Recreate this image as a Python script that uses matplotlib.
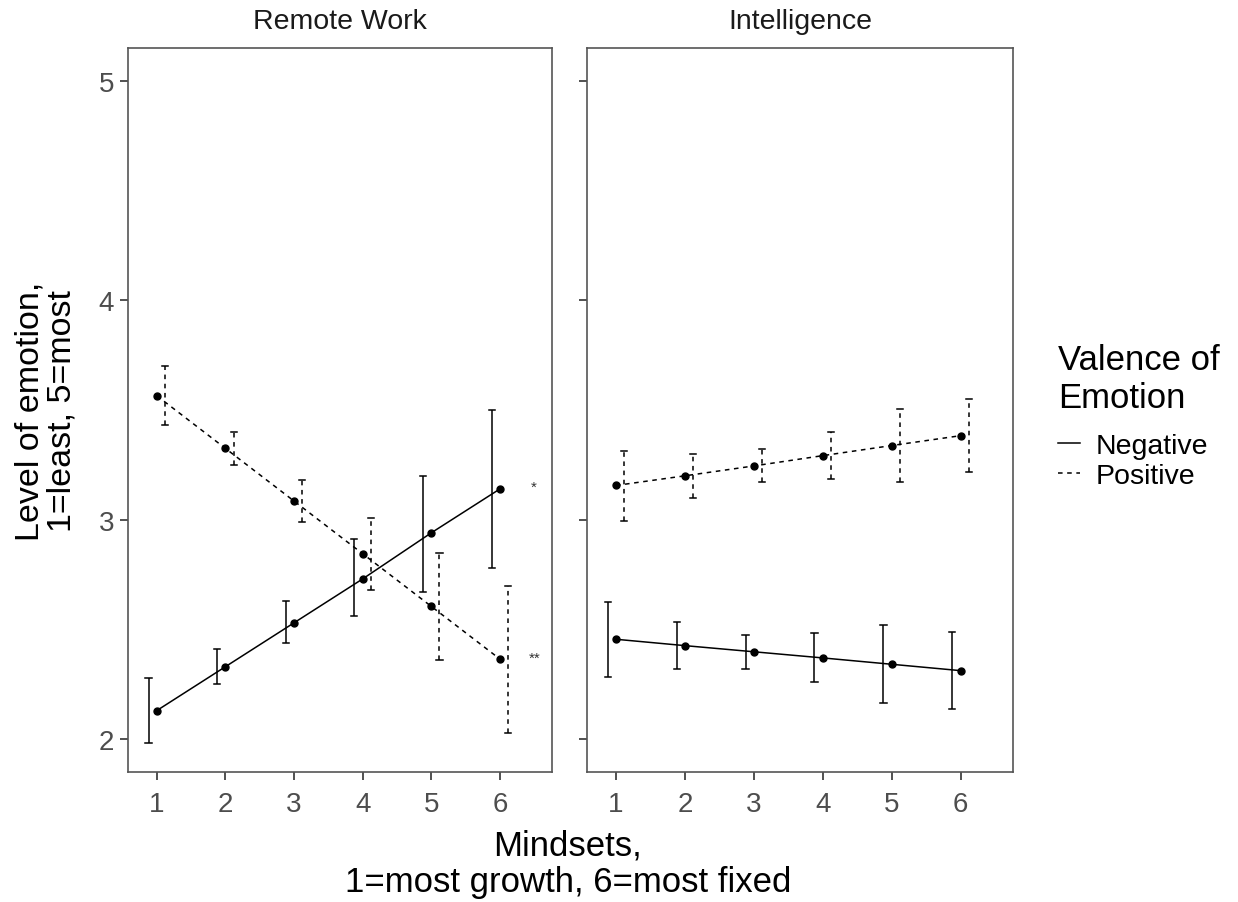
import matplotlib
matplotlib.use("Agg")
import matplotlib.pyplot as plt
from matplotlib.lines import Line2D

plt.rcParams['font.family'] = ['Liberation Sans', 'DejaVu Sans']

mindset = [1, 2, 3, 4, 5, 6]
panels = ["Remote Work", "Intelligence"]

# Remote Work
remote_neg = [2.13, 2.33, 2.53, 2.73, 2.94, 3.14]
remote_neg_lo = [1.98, 2.25, 2.44, 2.56, 2.67, 2.78]
remote_neg_hi = [2.28, 2.41, 2.63, 2.91, 3.20, 3.50]
remote_pos = [3.565, 3.325, 3.085, 2.845, 2.605, 2.365]
remote_pos_lo = [3.43, 3.25, 2.99, 2.68, 2.36, 2.03]
remote_pos_hi = [3.70, 3.40, 3.18, 3.01, 2.85, 2.70]

# Intelligence
intel_neg = [2.455, 2.426, 2.398, 2.370, 2.341, 2.312]
intel_neg_lo = [2.285, 2.318, 2.320, 2.259, 2.166, 2.136]
intel_neg_hi = [2.624, 2.533, 2.476, 2.482, 2.520, 2.489]
intel_pos = [3.156, 3.200, 3.245, 3.292, 3.338, 3.383]
intel_pos_lo = [2.994, 3.098, 3.171, 3.185, 3.171, 3.217]
intel_pos_hi = [3.315, 3.300, 3.320, 3.398, 3.505, 3.550]

# significance marks (Remote Work panel only)
sig_labels = ["*", "**"]
sig_y = [3.15, 2.37]
sig_x = 6.5

data = {
    "Remote Work": [(remote_neg, remote_neg_lo, remote_neg_hi),
                    (remote_pos, remote_pos_lo, remote_pos_hi)],
    "Intelligence": [(intel_neg, intel_neg_lo, intel_neg_hi),
                     (intel_pos, intel_pos_lo, intel_pos_hi)],
}

W, H = 1238, 903
fig = plt.figure(figsize=(W / 100, H / 100), dpi=100)

def box(x0, x1, y0, y1):
    return [x0 / W, 1 - y1 / H, (x1 - x0) / W, (y1 - y0) / H]

ax1 = fig.add_axes(box(128, 552, 49, 773))
ax2 = fig.add_axes(box(587, 1013, 49, 773))
axes = [ax1, ax2]

styles = ["-", (0, (3, 3))]
dodge = [-0.12, 0.12]

for ax, name in zip(axes, panels):
    for k, (y, lo, hi) in enumerate(data[name]):
        xs = [m + dodge[k] for m in mindset]
        for xe, l, h in zip(xs, lo, hi):
            ax.plot([xe, xe], [l, h], color="black", lw=1.1, ls=styles[k],
                    solid_capstyle="butt")
            ax.plot([xe - 0.045, xe + 0.045], [h, h], color="black", lw=1.1)
            ax.plot([xe - 0.045, xe + 0.045], [l, l], color="black", lw=1.1)
        ax.plot(mindset, y, color="black", lw=1.1, ls=styles[k])
        ax.plot(mindset, y, "o", color="black", ms=5)
    ax.set_xlim(0.58, 6.76)
    ax.set_ylim(1.85, 5.15)
    ax.set_xticks(mindset)
    ax.set_yticks([2, 3, 4, 5])
    for s in ax.spines.values():
        s.set_color("#555555")
        s.set_linewidth(1.2)
    ax.tick_params(length=6, width=1.2, color="#333333", labelsize=20,
                   labelcolor="#4d4d4d", pad=4)
    ax.tick_params(axis="x", pad=8)
    ax.text(0.5, 1 + 27 / 724, name, transform=ax.transAxes, ha="center",
            va="center", fontsize=20.5, color="#1a1a1a")

ax2.tick_params(axis="y", labelleft=False)

for lab, yy in zip(sig_labels, sig_y):
    ax1.text(sig_x, yy, lab, ha="center", va="center", fontsize=11,
             color="#333333")

fig.text(46 / W, 1 - 411 / H, "Level of emotion,\n1=least, 5=most",
         rotation=90, ha="center", va="center", fontsize=24.5,
         linespacing=1.08)
fig.text(568 / W, 1 - 864 / H, "Mindsets,\n1=most growth, 6=most fixed",
         ha="center", va="center", fontsize=25, linespacing=1.12)

handles = [Line2D([], [], color="black", lw=1.1, ls=styles[0]),
           Line2D([], [], color="black", lw=1.1, ls=styles[1])]
leg = fig.legend(handles, ["Negative", "Positive"],
                 title="Valence of\nEmotion", loc="upper left",
                 bbox_to_anchor=(1044 / W, 1 - 330 / H), frameon=False,
                 fontsize=20.5, title_fontsize=25, handlelength=0.75,
                 handletextpad=0.55, labelspacing=0.12, borderpad=0,
                 alignment="left")
leg.get_title().set_linespacing(1.18)
leg._legend_box.sep = 14

fig.savefig("out.png", dpi=100)
